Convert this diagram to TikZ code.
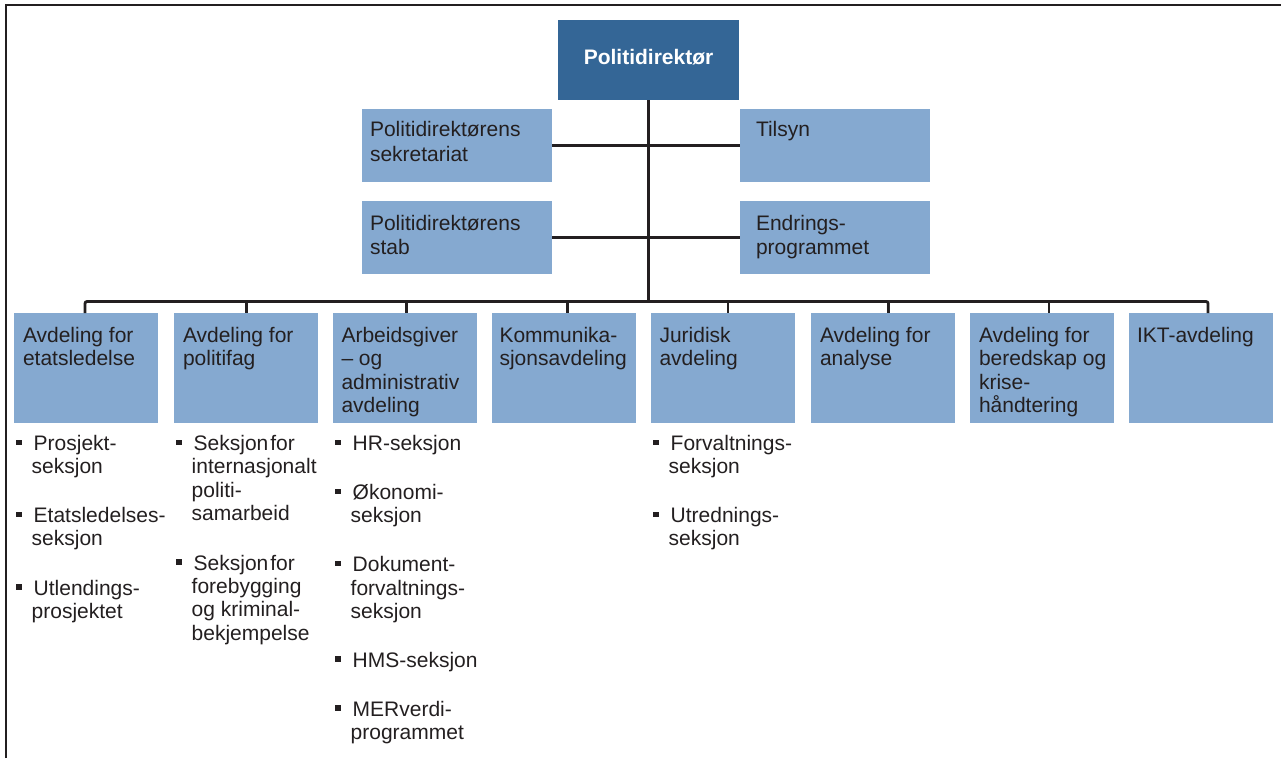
\documentclass[tikz,border=0pt]{standalone}
\usepackage{fontspec}
\setmainfont{Liberation Sans}
\usetikzlibrary{calc}
\definecolor{topblue}{HTML}{346696}
\definecolor{boxblue}{HTML}{85A9D0}
\definecolor{ink}{HTML}{231F20}
% left-aligned lines whose baseline is that of the first line
\newcommand\mlines[1]{\vtop{\halign{##\hfil\cr#1\crcr}}}
\begin{document}
\begin{tikzpicture}[x=1pt,y=-1pt,
  link/.style={draw=ink, line width=2.8pt},
  unitbox/.style={fill=boxblue, draw=none, inner sep=0pt, outer sep=0pt, anchor=north west},
  deptbox/.style={unitbox, minimum width=144pt, minimum height=110pt},
  staffbox/.style={unitbox, minimum width=190pt, minimum height=73pt},
  boxtext/.style={anchor=base west, inner sep=0pt, outer sep=0pt, text=ink,
    font=\fontsize{21}{23.5}\selectfont},
  stafftext/.style={boxtext, font=\fontsize{21}{24.3}\selectfont},
  itemtext/.style={anchor=base west, inner sep=0pt, outer sep=0pt, text=ink,
    font=\fontsize{21}{23.2}\selectfont},
  sq/.style={fill=ink, draw=none, minimum size=5.5pt, inner sep=0pt, outer sep=0pt}
]
\useasboundingbox (0,0) rectangle (1281,758);

% frame
\draw[ink, line width=2pt] (6,758) -- (6,5) -- (1281,5);

% head of the organisation
\node[unitbox, fill=topblue, minimum width=181pt, minimum height=80pt] (top) at (558,20) {};
\node[anchor=base, inner sep=0pt, text=white, font=\fontsize{21}{24}\selectfont\bfseries]
  (toptext) at (648.5,64) {Politidirektør};

% staff units
\node[staffbox] (s1) at (362,109) {};
\node[staffbox] (s2) at (362,201) {};
\node[staffbox] (r1) at (740,109) {};
\node[staffbox] (r2) at (740,201) {};
\node[stafftext] (s1t) at ($(s1.north west)+(8,27.7)$) {\mlines{Politidirektørens\cr sekretariat}};
\node[stafftext] (s2t) at ($(s2.north west)+(8,29)$) {\mlines{Politidirektørens\cr stab}};
\node[stafftext] (r1t) at ($(r1.north west)+(16,27.7)$) {Tilsyn};
\node[stafftext] (r2t) at ($(r2.north west)+(16,29)$) {\mlines{Endrings-\cr programmet}};

% departments
\foreach \i/\x in {1/14,2/174,3/333,4/492,5/651,6/811,7/970,8/1129}
  \node[deptbox] (d\i) at (\x,313) {};

\node[boxtext] (d1t) at ($(d1.north west)+(9,29)$) {\mlines{Avdeling for\cr etatsledelse}};
\node[boxtext] (d2t) at ($(d2.north west)+(9,29)$) {\mlines{Avdeling for\cr politifag}};
\node[boxtext] (d3t) at ($(d3.north west)+(8.5,29)$) {\mlines{Arbeidsgiver\cr – og\cr administrativ\cr avdeling}};
\node[boxtext] (d4t) at ($(d4.north west)+(7.5,29)$) {\mlines{Kommunika-\cr sjonsavdeling}};
\node[boxtext] (d5t) at ($(d5.north west)+(8.5,29)$) {\mlines{Juridisk\cr avdeling}};
\node[boxtext] (d6t) at ($(d6.north west)+(9,29)$) {\mlines{Avdeling for\cr analyse}};
\node[boxtext] (d7t) at ($(d7.north west)+(9,29)$) {\mlines{Avdeling for\cr beredskap og\cr krise-\cr håndtering}};
\node[boxtext] (d8t) at ($(d8.north west)+(8,29)$) {IKT-avdeling};

% connectors
\coordinate (bus) at (648.5,301.5);
\foreach \i/\x in {1/85,2/246.7,3/406.7,4/567.7,5/728,6/888.7,7/1049,8/1208}
  \coordinate (j\i) at (\x,301.5);
\draw[link] (top.south) -- (bus);
\draw[link, rounded corners=2pt] (j1 |- d1.north) -- (j1) -- (j8) -- (j8 |- d8.north);
\foreach \i in {2,...,7}
  \draw[link] (j\i) -- (j\i |- d\i.north);
\draw[link] (s1.east) -- (r1.west);
\draw[link] (s2.east) -- (r2.west);

% sections under the departments
% column 1
\node[sq] (b11) at (19,442.4) {};
\node[itemtext] (i11) at (31.7,450.7) {\mlines{\hspace*{2pt}Prosjekt-\cr seksjon}};
\node[sq] (b12) at (19,514.3) {};
\node[itemtext] (i12) at (31.7,522.6) {\mlines{\hspace*{2pt}Etatsledelses-\cr seksjon}};
\node[sq] (b13) at (19,586.8) {};
\node[itemtext] (i13) at (31.7,595.1) {\mlines{\hspace*{2pt}Utlendings-\cr prosjektet}};
% column 2
\node[sq] (b21) at (179,442.4) {};
\node[itemtext] (i21) at (191.7,450.7) {\mlines{\hspace*{2pt}Seksjon\hspace{2pt}for\cr internasjonalt\cr politi-\cr samarbeid}};
\node[sq] (b22) at (179,562.2) {};
\node[itemtext] (i22) at (191.7,570.5) {\mlines{\hspace*{2pt}Seksjon\hspace{2pt}for\cr forebygging\cr og kriminal-\cr bekjempelse}};
% column 3
\node[sq] (b31) at (338,442.4) {};
\node[itemtext] (i31) at (350.7,450.7) {\hspace*{2pt}HR-seksjon};
\node[sq] (b32) at (338,491.4) {};
\node[itemtext] (i32) at (350.7,499.7) {\mlines{\hspace*{2pt}Økonomi-\cr seksjon}};
\node[sq] (b33) at (338,563.6) {};
\node[itemtext] (i33) at (350.7,571.9) {\mlines{\hspace*{2pt}Dokument-\cr forvaltnings-\cr seksjon}};
\node[sq] (b34) at (338,659) {};
\node[itemtext] (i34) at (350.7,667.3) {\hspace*{2pt}HMS-seksjon};
\node[sq] (b35) at (338,708) {};
\node[itemtext] (i35) at (350.7,716.3) {\mlines{\hspace*{2pt}MERverdi-\cr programmet}};
% column 5
\node[sq] (b51) at (656,442.4) {};
\node[itemtext] (i51) at (668.7,450.7) {\mlines{\hspace*{2pt}Forvaltnings-\cr seksjon}};
\node[sq] (b52) at (656,514.3) {};
\node[itemtext] (i52) at (668.7,522.6) {\mlines{\hspace*{2pt}Utrednings-\cr seksjon}};
\end{tikzpicture}
\end{document}
